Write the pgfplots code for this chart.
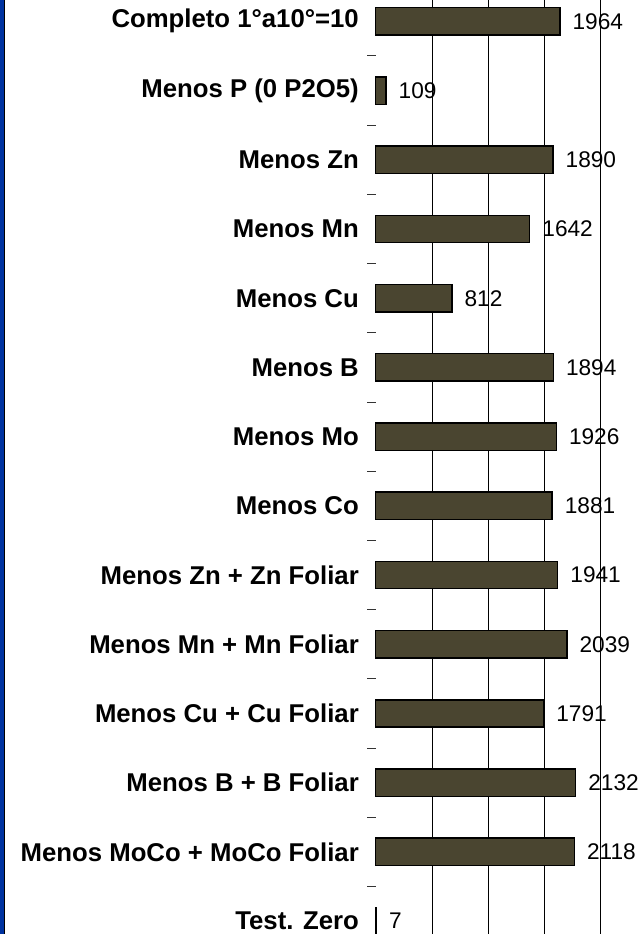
\documentclass[border=0pt]{standalone}
\usepackage{pgfplots}
\usepackage{fontspec}
\setmainfont{Liberation Sans}
\pgfplotsset{compat=1.18}
\definecolor{barfill}{RGB}{74,69,48}
\definecolor{sidebar}{RGB}{0,51,160}

\begin{document}
\begin{tikzpicture}
\useasboundingbox (0,0) rectangle (478.5pt,700.5pt);
\clip (0,0) rectangle (478.5pt,700.5pt);
\begin{axis}[
  at={(281.8pt,-16.3pt)}, anchor=south west,
  scale only axis,
  width=168.75pt, height=726.75pt,
  xbar, bar width=20.55pt,
  xmin=0, xmax=2400,
  ymin=-0.5, ymax=13.5, y dir=reverse,
  xtick={600,1200,1800}, xticklabels={},
  xmajorgrids, major grid style={black, line width=0.6pt},
  extra x ticks={2400}, extra x tick labels={},
  extra x tick style={grid style={gray!80, line width=0.6pt}},
  x axis line style={draw=none},
  y axis line style={black, line width=0.8pt},
  ytick={0,...,13},
  yticklabels={Completo 1°a10°=10, Menos P (0 P2O5), Menos Zn, Menos Mn, Menos Cu, Menos B, Menos Mo, Menos Co, Menos Zn + Zn Foliar, Menos Mn + Mn Foliar, Menos Cu + Cu Foliar, Menos B + B Foliar, Menos MoCo + MoCo Foliar, Test. Zero},
  ytick pos=left, major tick length=0pt,
  minor ytick={0.5,1.5,...,12.5},
  minor tick length=6.5pt, tick align=outside,
  minor tick style={black!80, line width=0.7pt},
  yticklabel style={font=\fontsize{19.3}{22}\selectfont\bfseries, inner sep=0pt, xshift=-12.5pt},
  nodes near coords,
  /pgf/number format/assume math mode=true,
  /pgf/number format/1000 sep={},
  every node near coord/.append style={font=\fontsize{17}{20}\selectfont, anchor=west, inner sep=0pt, xshift=9pt, black},
  clip=false,
]
\addplot[fill=barfill, draw=black, line width=1.1pt] coordinates {
  (1964,0) (109,1) (1890,2) (1642,3) (812,4) (1894,5) (1926,6)
  (1881,7) (1941,8) (2039,9) (1791,10) (2132,11) (2118,12) (7,13)
};
\end{axis}
\fill[sidebar] (0,0) rectangle (3pt,700.5pt);
\fill[black] (3pt,0) rectangle (3.75pt,700.5pt);
\end{tikzpicture}
\end{document}
